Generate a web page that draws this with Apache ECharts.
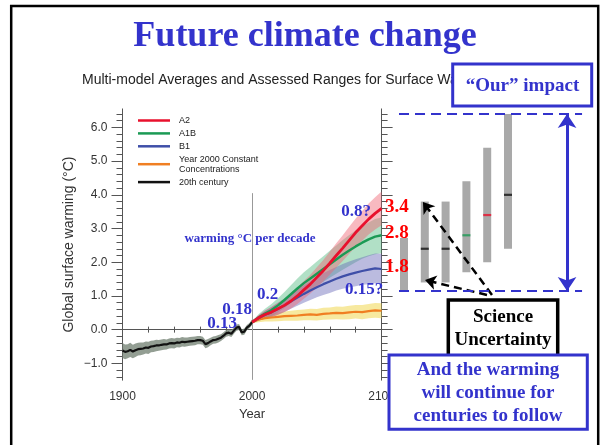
<!DOCTYPE html>
<html><head><meta charset="utf-8">
<script src="https://cdn.jsdelivr.net/npm/echarts@6/dist/echarts.min.js"></script>
<style>html,body{margin:0;padding:0;background:#fff}#c{width:600px;height:445px}</style>
</head><body><div id="c"></div>
<script>
// ---------- DATA ----------
const obsYears = [1900,1902,1904,1906,1908,1910,1912,1914,1916,1918,1920,1922,1924,1926,1928,1930,1932,1934,1936,1938,1940,1942,1944,1946,1948,1950,1952,1954,1956,1958,1960,1962,1964,1966,1968,1970,1972,1974,1976,1978,1980,1982,1984,1986,1988,1990,1992,1994,1996,1998,2000];
const obsMean = [-0.62,-0.66,-0.64,-0.60,-0.65,-0.61,-0.58,-0.57,-0.56,-0.53,-0.54,-0.50,-0.49,-0.47,-0.47,-0.45,-0.44,-0.44,-0.41,-0.40,-0.41,-0.38,-0.39,-0.36,-0.37,-0.36,-0.35,-0.34,-0.33,-0.31,-0.31,-0.33,-0.43,-0.40,-0.35,-0.31,-0.30,-0.27,-0.24,-0.18,-0.11,-0.09,-0.12,-0.03,0.06,0.08,-0.08,-0.06,0.06,0.12,0.22];
const obsSpread = [0.22,0.22,0.21,0.21,0.20,0.20,0.19,0.19,0.18,0.18,0.18,0.17,0.17,0.17,0.16,0.16,0.16,0.15,0.15,0.15,0.15,0.14,0.14,0.14,0.14,0.13,0.13,0.13,0.13,0.12,0.12,0.12,0.12,0.12,0.11,0.11,0.11,0.11,0.10,0.10,0.10,0.10,0.10,0.09,0.09,0.09,0.09,0.09,0.08,0.08,0.08];

const projYears = [2000,2005,2010,2015,2020,2025,2030,2035,2040,2045,2050,2055,2060,2065,2070,2075,2080,2085,2090,2095,2100];
const a2Mean   = [0.22,0.35,0.45,0.52,0.62,0.72,0.85,1.00,1.18,1.35,1.55,1.75,1.97,2.20,2.42,2.65,2.88,3.08,3.28,3.45,3.60];
const a2Spread = [0.03,0.08,0.12,0.15,0.18,0.20,0.22,0.24,0.26,0.28,0.30,0.32,0.34,0.36,0.38,0.40,0.42,0.44,0.46,0.48,0.50];
const a1bMean   = [0.22,0.36,0.48,0.58,0.72,0.88,1.05,1.22,1.38,1.52,1.66,1.80,1.94,2.08,2.22,2.35,2.47,2.58,2.68,2.76,2.80];
const a1bSpread = [0.03,0.10,0.14,0.18,0.21,0.24,0.27,0.30,0.32,0.34,0.36,0.38,0.40,0.42,0.44,0.46,0.47,0.48,0.50,0.52,0.53];
const b1Mean   = [0.22,0.34,0.44,0.52,0.62,0.72,0.84,0.95,1.06,1.16,1.26,1.35,1.43,1.51,1.58,1.64,1.69,1.74,1.78,1.82,1.80];
const b1Spread = [0.03,0.08,0.12,0.15,0.18,0.20,0.22,0.24,0.26,0.28,0.30,0.32,0.34,0.35,0.37,0.38,0.40,0.41,0.43,0.44,0.45];
const constMean   = [0.22,0.30,0.34,0.36,0.38,0.40,0.41,0.42,0.44,0.45,0.44,0.47,0.48,0.50,0.49,0.51,0.53,0.52,0.55,0.57,0.56];
const constSpread = [0.03,0.08,0.10,0.12,0.13,0.14,0.15,0.16,0.16,0.17,0.17,0.18,0.18,0.19,0.19,0.20,0.20,0.21,0.21,0.22,0.22];

// likely ranges at 2090-2099 (B1, A1T, B2, A1B, A2, A1FI)
const rangePos  = [1,2,3,4,5,6];
const rangeLow  = [1.15,1.4,1.4,1.7,2.0,2.4];
const rangeHigh = [2.72,3.8,3.8,4.4,5.4,6.4];
const rangeBest = [null,2.4,2.4,2.8,3.4,4.0];
const rangeBestColor = [null,'#111','#111','#1b9a54','#e8112d','#111'];

const yMin = -1.5, yMax = 6.55;

// ---------- STYLE ----------
const SERIF = '"Liberation Serif","Times New Roman",serif';
const SANS = '"Liberation Sans",Arial,sans-serif';
const BLUE = '#3333cc';
const AX = '#555';
const PX = 33.7;
const TOP = 108.9;
function yPx(v){ return TOP + (yMax - v) * PX; }
const L = 122.5, R = 600 - 381.6;

function bandSeries(name, years, mean, spread, color){
  const data = years.map((y,i)=>[y, +(mean[i]-spread[i]).toFixed(3), +(mean[i]+spread[i]).toFixed(3)]);
  return {name:name, type:'custom', xAxisIndex:0, yAxisIndex:0, data:data, silent:true, z:2,
    encode:{x:0, y:[1,2]},
    renderItem:function(params, api){
      if(params.dataIndex !== 0) return null;
      const up = [], dn = [];
      for(let i=0;i<data.length;i++){
        up.push(api.coord([data[i][0], data[i][2]]));
        dn.push(api.coord([data[i][0], data[i][1]]));
      }
      return {type:'polygon', shape:{points: up.concat(dn.reverse())}, style:{fill:color}};
    }};
}
function lineSeries(name, years, mean, color, w, z){
  return {name:name, type:'line', data:years.map((y,i)=>[y,mean[i]]), symbol:'none', color:color,
    lineStyle:{color:color, width:w}, xAxisIndex:0, yAxisIndex:0, z:z, silent:true};
}

const series = [
  bandSeries('obs band', obsYears, obsMean, obsSpread, 'rgba(120,134,120,0.8)'),
  bandSeries('const band', projYears, constMean, constSpread, 'rgba(240,215,80,0.55)'),
  bandSeries('a1b band', projYears, a1bMean, a1bSpread, 'rgba(70,180,120,0.42)'),
  bandSeries('b1 band', projYears, b1Mean, b1Spread, 'rgba(105,105,185,0.45)'),
  bandSeries('a2 band', projYears, a2Mean, a2Spread, 'rgba(240,100,115,0.45)'),
  Object.assign(lineSeries('20th century', obsYears, obsMean, '#111', 2.2, 5), {
    markLine:{silent:true, symbol:'none', label:{show:false},
      lineStyle:{color:'#999', width:1, type:'solid'},
      data:[[{coord:[2000,-1.49]},{coord:[2000,4.05]}]]}
  }),
  lineSeries('Year 2000 Constant Concentrations', projYears, constMean, '#f07f22', 2.2, 5),
  lineSeries('B1', projYears, b1Mean, '#3f4fa8', 2.2, 5),
  lineSeries('A1B', projYears, a1bMean, '#1b9a54', 2.4, 6),
  lineSeries('A2', projYears, a2Mean, '#e8112d', 2.8, 7),
  {name:'range', type:'custom', xAxisIndex:4, yAxisIndex:6, silent:true, z:3,
    data:rangePos.map((p,i)=>[p, rangeLow[i], rangeHigh[i]]), encode:{x:0, y:[1,2]},
    renderItem:function(params, api){
      const a = api.coord([api.value(0), api.value(1)]);
      const b = api.coord([api.value(0), api.value(2)]);
      return {type:'rect', shape:{x:a[0]-4, y:b[1], width:8, height:a[1]-b[1]}, style:{fill:'#a9a9a9'}};
    }},
  {name:'best', type:'scatter', xAxisIndex:4, yAxisIndex:6, symbol:'rect', symbolSize:[8,2.2], silent:true, z:6,
    data:rangePos.map((p,i)=>rangeBest[i]==null?null:{value:[p,rangeBest[i]], itemStyle:{color:rangeBestColor[i]}}).filter(d=>d),
    markLine:{silent:true, label:{show:false}, symbol:['none','arrow'], symbolSize:11,
      lineStyle:{color:'#000', width:2.5, type:[8,5]},
      data:[
        [{coord:[5.23,1.03]},{coord:[1.91,3.79]}],
        [{coord:[4.99,1.03]},{coord:[2.01,1.47]}]
      ]}
  },
  {name:'bestGuide', type:'scatter', xAxisIndex:4, yAxisIndex:6, symbolSize:0, silent:true, z:6,
    data:rangePos.map((p,i)=>[p, rangeLow[i]]),
    markLine:{silent:true, label:{show:false}, symbol:'none',
      data:[
        [{coord:[0.76,rangeHigh[5]], lineStyle:{color:BLUE,width:2,type:[10,6]}},{coord:[9.56,rangeHigh[5]]}],
        [{coord:[0.76,rangeLow[0]], lineStyle:{color:BLUE,width:2,type:[10,6]}},{coord:[9.56,rangeLow[0]]}],
        [{coord:[8.84,rangeLow[0]], symbol:'arrow', symbolSize:14, lineStyle:{color:BLUE,width:3,type:'solid'}},
         {coord:[8.84,rangeHigh[5]], symbol:'arrow', symbolSize:14}]
      ]}
  }
];

const hidX = (g)=>({type:'value', gridIndex:g, min:0, max:1, show:false});
const option = {
  animation:false,
  backgroundColor:'#fff',
  grid:[
    {left:L, right:R, top:TOP, bottom:445-yPx(yMin)},
    {left:L, right:R, top:yPx(6.4), bottom:445-yPx(-1.4)},
    {left:L, right:R, top:yPx(6), bottom:445-yPx(-1)},
    {left:383.2, right:600-591.2, top:TOP, bottom:445-yPx(yMin)}
  ],
  legend:{
    data:['A2','A1B','B1','Year 2000 Constant Concentrations','20th century'],
    orient:'vertical', left:138, top:115.5, padding:0, itemGap:2.9,
    icon:'rect', itemWidth:32, itemHeight:2.5, selectedMode:false,
    formatter:n=>n==='Year 2000 Constant Concentrations'?'Year 2000 Constant\nConcentrations':n,
    textStyle:{fontFamily:SANS, fontSize:9, lineHeight:10, color:'#222', padding:[0,0,0,4]}
  },
  xAxis:[
    {type:'value', gridIndex:0, position:'bottom', min:1900, max:2100, interval:100,
      axisLine:{show:true, lineStyle:{color:AX}}, axisTick:{show:true, inside:false, length:6, lineStyle:{color:AX}},
      minorTick:{show:true, splitNumber:5, length:3, lineStyle:{color:AX}},
      splitLine:{show:false}, axisLabel:{color:'#333', fontSize:12, fontFamily:SANS, margin:11, formatter:v=>String(v)},
      name:'Year', nameLocation:'middle', nameGap:27, nameTextStyle:{color:'#333', fontSize:13, fontFamily:SANS}},
    {type:'value', gridIndex:0, position:'top', min:1900, max:2100, interval:100,
      axisLine:{show:true, lineStyle:{color:AX}}, axisTick:{show:true, inside:false, length:6, lineStyle:{color:AX}},
      minorTick:{show:true, splitNumber:5, length:3, lineStyle:{color:AX}},
      splitLine:{show:false}, axisLabel:{show:false}},
    hidX(1), hidX(2),
    {type:'value', gridIndex:3, min:0, max:10, show:false}
  ],
  yAxis:[
    {type:'value', gridIndex:0, position:'left', min:yMin, max:yMax,
      axisLine:{show:true, lineStyle:{color:AX}}, axisTick:{show:false}, axisLabel:{show:false}, splitLine:{show:false},
      name:'Global surface warming (°C)', nameLocation:'middle', nameGap:46,
      nameTextStyle:{color:'#333', fontSize:14, fontFamily:SANS}},
    {type:'value', gridIndex:0, position:'right', min:yMin, max:yMax,
      axisLine:{show:true, lineStyle:{color:AX}}, axisTick:{show:false}, axisLabel:{show:false}, splitLine:{show:false}},
    {type:'value', gridIndex:1, position:'left', min:-1.4, max:6.4, interval:0.2,
      axisLine:{show:false}, axisTick:{show:true, inside:false, length:6, lineStyle:{color:AX}}, axisLabel:{show:false}, splitLine:{show:false}},
    {type:'value', gridIndex:1, position:'right', min:-1.4, max:6.4, interval:0.2,
      axisLine:{show:false}, axisTick:{show:true, inside:false, length:6, lineStyle:{color:AX}}, axisLabel:{show:false}, splitLine:{show:false}},
    {type:'value', gridIndex:2, position:'left', min:-1, max:6, interval:1,
      axisLine:{show:false}, axisTick:{show:true, inside:false, length:11, lineStyle:{color:AX}}, splitLine:{show:false},
      axisLabel:{color:'#333', fontSize:12, fontFamily:SANS, margin:15,
        formatter:v=>(v<0?'\u2212':'')+Math.abs(v).toFixed(1)}},
    {type:'value', gridIndex:2, position:'right', min:-1, max:6, interval:1,
      axisLine:{show:false}, axisTick:{show:true, inside:false, length:11, lineStyle:{color:AX}}, axisLabel:{show:false}, splitLine:{show:false}},
    {type:'value', gridIndex:3, min:yMin, max:yMax, show:false}
  ],
  series:series,
  graphic:[
    {type:'text', x:305, y:37, z:110, silent:true, style:{text:'Future climate change', font:'bold 36px '+SERIF, fill:BLUE, align:'center', verticalAlign:'middle'}},
    {type:'text', x:82, y:80, z:50, silent:true, style:{text:'Multi-model Averages and Assessed Ranges for Surface Warming', font:'14px '+SANS, fill:'#222', align:'left', verticalAlign:'middle'}},
    {type:'text', x:250, y:239, z:110, silent:true, style:{text:'warming °C per decade', font:'bold 13px '+SERIF, fill:BLUE, align:'center', verticalAlign:'middle'}},
    {type:'text', x:356, y:212, z:110, silent:true, style:{text:'0.8?', font:'bold 17px '+SERIF, fill:BLUE, align:'center', verticalAlign:'middle'}},
    {type:'text', x:267.5, y:295, z:110, silent:true, style:{text:'0.2', font:'bold 17px '+SERIF, fill:BLUE, align:'center', verticalAlign:'middle'}},
    {type:'text', x:237, y:309.5, z:110, silent:true, style:{text:'0.18', font:'bold 17px '+SERIF, fill:BLUE, align:'center', verticalAlign:'middle'}},
    {type:'text', x:222, y:323.5, z:110, silent:true, style:{text:'0.13', font:'bold 17px '+SERIF, fill:BLUE, align:'center', verticalAlign:'middle'}},
    {type:'text', x:364, y:290, z:110, silent:true, style:{text:'0.15?', font:'bold 17px '+SERIF, fill:BLUE, align:'center', verticalAlign:'middle'}},
    {type:'text', x:385, y:207, z:110, silent:true, style:{text:'3.4', font:'bold 19px '+SERIF, fill:'#ff0000', align:'left', verticalAlign:'middle'}},
    {type:'text', x:385, y:233.5, z:110, silent:true, style:{text:'2.8', font:'bold 19px '+SERIF, fill:'#ff0000', align:'left', verticalAlign:'middle'}},
    {type:'text', x:385, y:267.5, z:110, silent:true, style:{text:'1.8', font:'bold 19px '+SERIF, fill:'#ff0000', align:'left', verticalAlign:'middle'}},
    {type:'rect', z:100, silent:true, shape:{x:452.7, y:64, width:139, height:42}, style:{fill:'#fff', stroke:BLUE, lineWidth:3}},
    {type:'text', x:522.5, y:86, z:101, silent:true, style:{text:'\u201COur\u201D impact', font:'bold 19px '+SERIF, fill:BLUE, align:'center', verticalAlign:'middle'}},
    {type:'rect', z:100, silent:true, shape:{x:448.3, y:300, width:109.4, height:60}, style:{fill:'#fff', stroke:'#000', lineWidth:3.5}},
    {type:'text', x:503, y:317, z:101, silent:true, style:{text:'Science', font:'bold 19px '+SERIF, fill:'#000', align:'center', verticalAlign:'middle'}},
    {type:'text', x:503, y:340, z:101, silent:true, style:{text:'Uncertainty', font:'bold 19px '+SERIF, fill:'#000', align:'center', verticalAlign:'middle'}},
    {type:'rect', z:102, silent:true, shape:{x:389, y:355, width:198.3, height:74.3}, style:{fill:'#fff', stroke:BLUE, lineWidth:3}},
    {type:'text', x:488, y:393.5, z:103, silent:true, style:{text:'And the warming\nwill continue for\ncenturies to follow', font:'bold 19px '+SERIF, lineHeight:23, fill:BLUE, align:'center', verticalAlign:'middle'}},
    {type:'rect', z:120, silent:true, shape:{x:11.2, y:6, width:587, height:470}, style:{fill:'none', stroke:'#000', lineWidth:2.5}}
  ]
};
const chart = echarts.init(document.getElementById('c'), null, {renderer:'canvas', width:600, height:445});
chart.setOption(option);
</script>
</body></html>
